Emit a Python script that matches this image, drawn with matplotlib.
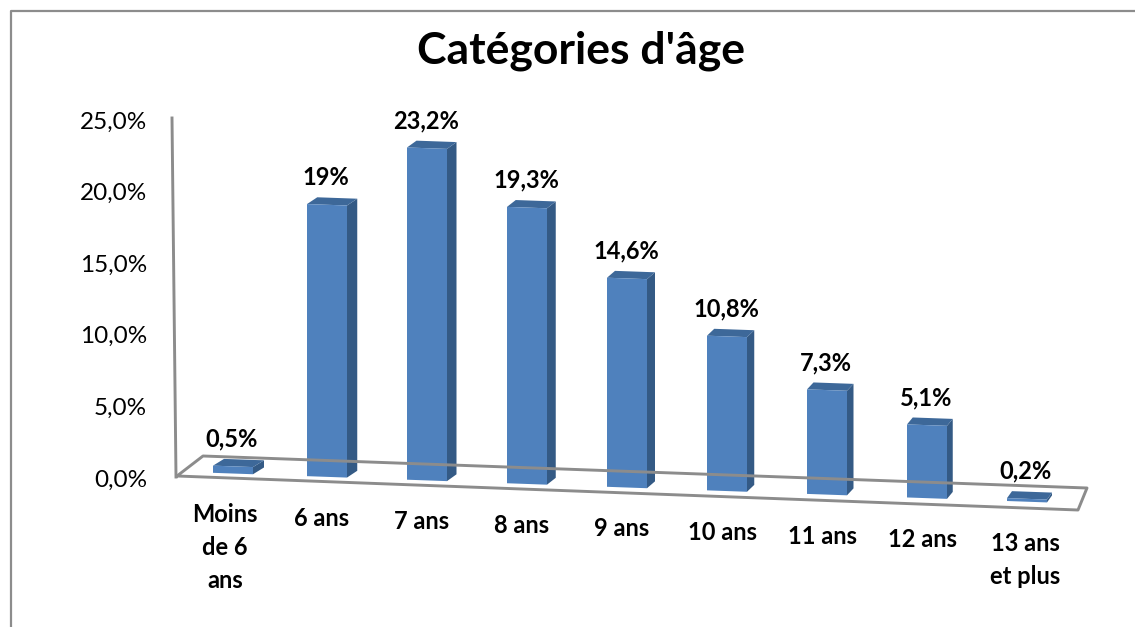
import matplotlib
matplotlib.use("Agg")
import matplotlib.pyplot as plt
from matplotlib.patches import Polygon
from matplotlib.lines import Line2D
from matplotlib.transforms import Affine2D
from matplotlib.ticker import FuncFormatter

plt.rcParams['font.family'] = ['Lato', 'DejaVu Sans']

categories = ["Moins\nde 6\nans", "6 ans", "7 ans", "8 ans", "9 ans",
              "10 ans", "11 ans", "12 ans", "13 ans\net plus"]
values = [0.5, 19.0, 23.2, 19.3, 14.6, 10.8, 7.3, 5.1, 0.2]
value_labels = ["0,5%", "19%", "23,2%", "19,3%", "14,6%", "10,8%", "7,3%", "5,1%", "0,2%"]
y_ticks = [0, 5, 10, 15, 20, 25]
title = "Catégories d'âge"

W, H = 1135, 627
FRONT = "#4f81bd"
SIDE = "#345a85"
TOP = "#3d6899"
GRID = "#8c8c8c"

fig = plt.figure(figsize=(W / 100, H / 100), dpi=100, facecolor="white")
L, R, T0, B0 = 172, 1087, 120, 478
ax = fig.add_axes([L / W, 1 - B0 / H, (R - L) / W, (B0 - T0) / H])
ax.set_xlim(-0.55, 8.6)
ax.set_ylim(0, 25)
ax.patch.set_visible(False)
for s in ax.spines.values():
    s.set_visible(False)

# floor skew in display space
k, x0 = 0.0355, 359
skew = Affine2D.from_values(1, -k, 0, 1, 0, k * x0)
tr = ax.transData + skew
px = Affine2D().scale(1, -1).translate(0, H)

# frame, wall axis and floor
def pline(xs, ys, lw=2.1, z=1):
    fig.add_artist(Line2D(xs, ys, transform=px, color=GRID, lw=lw, zorder=z))

pline([11, 11, 1135], [627, 11, 11], lw=1.6)
pline([172, 176], [118, 477])
pline([177, 203, 1087, 1078, 177], [476, 456, 488, 510, 476])

half = 0.2
dy = 0.5
for i, v in enumerate(values):
    nudge = 0.06 if i == 0 else 0
    xl, xr = i - half + nudge, i + half + nudge
    d = (11 - 0.75 * i) / 100
    ax.add_patch(Polygon([(xr, 0), (xr + d, dy), (xr + d, v + dy), (xr, v)], clip_on=False,
                         closed=True, fc=SIDE, ec="none", transform=tr, zorder=3))
    ax.add_patch(Polygon([(xl, v), (xr, v), (xr + d, v + dy), (xl + d, v + dy)], clip_on=False,
                         closed=True, fc=TOP, ec="none", transform=tr, zorder=3))
    ax.add_patch(Polygon([(xl, 0), (xr, 0), (xr, v), (xl, v)], clip_on=False,
                         closed=True, fc=FRONT, ec="none", transform=tr, zorder=4))
    ax.annotate(value_labels[i], xy=(i + nudge, v), xycoords=tr, xytext=(-1, 27.5),
                textcoords="offset pixels", ha="center", va="center", annotation_clip=False,
                fontsize=17, fontweight="bold", color="black", zorder=6)

ax.set_yticks(y_ticks)
ax.yaxis.set_major_formatter(FuncFormatter(lambda v, p: f"{v:.1f}".replace(".", ",") + "%"))
ax.tick_params(axis="y", length=0, pad=18, labelsize=17.5, labelcolor="black")

ax.set_xticks([i - 0.05 + (0.03 if i in (0, 8) else 0) for i in range(len(categories))])
ax.set_xticklabels(categories, fontweight="bold", fontsize=17, linespacing=1.52)
ax.tick_params(axis="x", length=0)
for i, tick in enumerate(ax.xaxis.get_major_ticks()):
    tick.set_pad((25 + 3.6 * i) * 72 / 100)

fig.text(581 / W, 1 - 51 / H, title, ha="center", va="center",
         fontsize=32, fontweight="bold", color="black")

fig.savefig("out.png", dpi=100, facecolor="white")
